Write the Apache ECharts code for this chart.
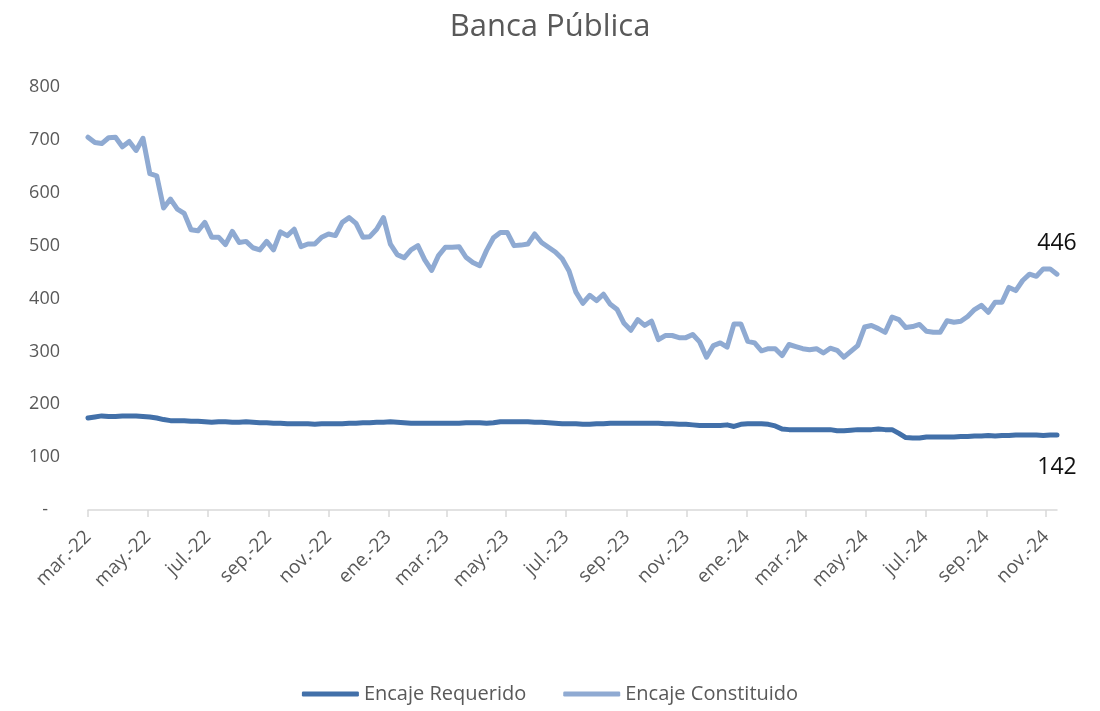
<!DOCTYPE html>
<html>
<head>
<meta charset="utf-8">
<script src="https://cdn.jsdelivr.net/npm/echarts@6/dist/echarts.min.js"></script>
<style>html,body{margin:0;padding:0;background:#fff}#c{width:1100px;height:711px}</style>
</head>
<body>
<div id="c"></div>
<script>
const titleText = 'Banca Pública';
const seriesNames = ['Encaje Requerido', 'Encaje Constituido'];
const startDate = '2022-03-04';
const weekCount = 142;
const tickDates = ['2022-03-04','2022-05-04','2022-07-04','2022-09-04','2022-11-04','2023-01-04','2023-03-04','2023-05-04','2023-07-04','2023-09-04','2023-11-04','2024-01-04','2024-03-04','2024-05-04','2024-07-04','2024-09-04','2024-11-04'];
const tickLabels = ['mar.-22','may.-22','jul.-22','sep.-22','nov.-22','ene.-23','mar.-23','may.-23','jul.-23','sep.-23','nov.-23','ene.-24','mar.-24','may.-24','jul.-24','sep.-24','nov.-24'];
const requerido = [174,176,178,177,177,178,178,178,177,176,174,171,169,169,169,168,168,167,166,167,167,166,166,167,166,165,165,164,164,163,163,163,163,162,163,163,163,163,164,164,165,165,166,166,167,166,165,164,164,164,164,164,164,164,164,165,165,165,164,165,167,167,167,167,167,166,166,165,164,163,163,163,162,162,163,163,164,164,164,164,164,164,164,164,163,163,162,162,161,160,160,160,160,161,158,162,163,163,163,162,159,153,152,152,152,152,152,152,152,150,150,151,152,152,152,153,152,152,145,137,136,136,138,138,138,138,138,139,139,140,140,141,140,141,141,142,142,142,142,141,142,142];
const constituido = [705,695,693,704,705,687,697,680,703,636,632,571,588,569,561,530,528,544,516,516,502,527,506,508,496,492,508,492,526,519,531,498,503,503,516,522,519,544,553,542,516,517,531,553,503,483,477,492,500,473,453,481,497,497,498,478,468,462,491,515,525,525,500,501,503,522,506,497,488,475,452,412,391,406,396,408,389,379,353,340,360,349,357,322,330,330,326,326,332,318,289,311,316,308,352,352,319,316,301,305,305,292,313,309,305,303,305,297,306,302,289,300,311,346,349,343,336,365,360,345,347,351,338,336,336,358,355,357,366,379,387,374,393,393,421,415,434,446,442,456,456,446];

const DAY = 86400000;
const t0 = new Date(startDate + 'T00:00:00Z').getTime();
const dates = [];
for (let i = 0; i < weekCount; i++) dates.push(t0 + i * 7 * DAY);
const tickTimes = tickDates.map(d => new Date(d + 'T00:00:00Z').getTime());
const FONT = 'Open Sans';

function buildData(vals, pos) {
  return vals.map((v, i) => i === vals.length - 1
    ? { value: [dates[i], v], label: { show: true, position: pos, distance: pos === 'top' ? 19 : 21, color: '#111', fontSize: 23, fontFamily: FONT, formatter: p => String(p.value[1]) } }
    : [dates[i], v]);
}

const chart = echarts.init(document.getElementById('c'));
chart.setOption({
  animation: false,
  title: { text: titleText, left: 'center', top: 7, textStyle: { fontSize: 31, fontWeight: 'normal', color: '#595959', fontFamily: FONT } },
  legend: { bottom: 2, left: 'center', icon: 'roundRect', itemWidth: 57, itemHeight: 5, itemGap: 37,
    textStyle: { fontSize: 20, color: '#595959', fontFamily: FONT } },
  grid: { left: 88, right: 43, top: 87, bottom: 201 },
  xAxis: {
    type: 'value', min: dates[0], max: dates[dates.length - 1],
    axisLine: { lineStyle: { color: '#d9d9d9', width: 1.5 } },
    axisTick: { show: true, length: 7, lineStyle: { color: '#d9d9d9', width: 1.5 }, customValues: tickTimes },
    splitLine: { show: false },
    axisLabel: { customValues: tickTimes, rotate: 45, margin: 24, verticalAlign: 'middle', padding: [14, 0, 0, 0], color: '#595959', fontSize: 19, fontFamily: FONT,
      formatter: function (v) {
        let best = -1, bd = Infinity;
        tickTimes.forEach((t, i) => { const d = Math.abs(t - v); if (d < bd) { bd = d; best = i; } });
        return bd < 3 * DAY ? tickLabels[best] : '';
      } }
  },
  yAxis: {
    type: 'value', min: 0, max: 800, interval: 100,
    axisLine: { show: false }, axisTick: { show: false }, splitLine: { show: false },
    axisLabel: { color: '#595959', fontSize: 18, margin: 28, fontFamily: FONT,
      formatter: v => v === 0 ? '{d|-}' : String(v),
      rich: { d: { color: '#595959', fontSize: 18, fontFamily: FONT, padding: [0, 12, 0, 0] } } }
  },
  series: [
    { name: seriesNames[0], type: 'line', symbol: 'circle', symbolSize: 0.1, showSymbol: true, data: buildData(requerido, 'bottom'),
      lineStyle: { width: 5, color: '#4270A9', cap: 'round', join: 'round' }, itemStyle: { color: '#4270A9' } },
    { name: seriesNames[1], type: 'line', symbol: 'circle', symbolSize: 0.1, showSymbol: true, data: buildData(constituido, 'top'),
      lineStyle: { width: 5, color: '#8FAAD2', cap: 'round', join: 'round' }, itemStyle: { color: '#8FAAD2' } }
  ]
});
</script>
</body>
</html>
